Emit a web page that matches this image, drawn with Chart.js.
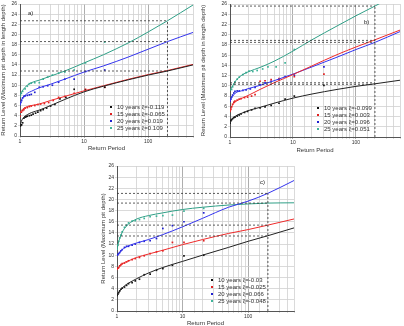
<!DOCTYPE html>
<html>
<head>
<meta charset="utf-8">
<script src="https://cdn.jsdelivr.net/npm/chart.js@4/dist/chart.umd.min.js"></script>
<style>
  html, body { margin: 0; padding: 0; background: #fff; overflow: hidden; width: 404px; height: 326px; }
  canvas { position: absolute; }
  #chartA { left: 0; top: 0; }
  #chartB { left: 200px; top: 0; }
  #chartC { left: 100px; top: 160px; }
</style>
</head>
<body>
<canvas id="chartA" width="200" height="160"></canvas>
<canvas id="chartB" width="204" height="160"></canvas>
<canvas id="chartC" width="200" height="175"></canvas>
<script>
// --- shared axis values ---
const fitPeriods = [1, 1.05, 1.1, 1.2, 1.3, 1.5, 2, 3, 5, 10, 20, 50, 100, 200, 500];
const yTicksMax = 26;
const refPeriod = 200;
const seriesNames = ["10 years", "15 years", "20 years", "25 years"];

// --- panel a ---
const aXi = ["-0.119", "-0.065", "0.019", "0.109"];
const aFit10 = [2.0, 2.9, 3.4, 3.9, 4.2, 4.6, 5.1, 6.0, 7.2, 8.7, 9.8, 11.1, 12.0, 12.8, 14.0];
const aFit15 = [4.5, 5.0, 5.3, 5.6, 5.8, 6.0, 6.3, 7.0, 7.8, 8.9, 9.9, 11.2, 12.1, 12.9, 14.1];
const aFit20 = [6.0, 7.0, 7.5, 8.0, 8.4, 8.8, 9.5, 10.2, 11.2, 12.6, 13.8, 15.6, 17.1, 18.6, 20.4];
const aFit25 = [7.8, 8.6, 9.0, 9.6, 10.0, 10.5, 11.0, 11.8, 12.8, 14.4, 16.0, 18.4, 20.5, 22.7, 25.8];
const aObs10X = [1.0, 1.03, 1.06, 1.1, 1.15, 1.2, 1.25, 1.3, 1.4, 1.5, 1.6, 1.75, 1.9, 2.1, 2.3, 2.6, 3.0, 3.5, 4.2, 5.2, 7, 10.5, 21];
const aObs10Y = [2.0, 2.1, 2.2, 2.6, 3.5, 3.7, 3.8, 3.9, 4.0, 4.1, 4.3, 4.5, 4.7, 5.0, 5.2, 5.5, 5.9, 6.2, 7.3, 7.6, 9.2, 9.0, 9.6];
const aObs15X = [1.0, 1.05, 1.1, 1.15, 1.2, 1.3, 1.4, 1.5, 1.7, 1.9, 2.1, 2.4, 2.8, 3.3, 4, 5, 7, 10.5, 21];
const aObs15Y = [3.9, 4.7, 5.0, 5.2, 5.5, 5.6, 5.8, 5.9, 6.0, 6.2, 6.3, 6.4, 6.6, 7.0, 7.6, 7.8, 8.4, 9.2, 9.6];
const aObs20X = [1.0, 1.03, 1.06, 1.1, 1.15, 1.2, 1.3, 1.4, 1.5, 1.7, 2.0, 2.3, 2.7, 3.2, 4, 5, 7, 10.5, 21];
const aObs20Y = [6.2, 6.6, 7.0, 7.5, 7.8, 7.9, 8.0, 8.1, 8.2, 8.6, 9.6, 9.7, 9.9, 10.0, 10.6, 11.2, 11.2, 12.7, 13.0];
const aObs25X = [1.0, 1.05, 1.1, 1.2, 1.3, 1.4, 1.5, 1.7, 2.0, 2.3, 2.7, 3.2, 4, 5, 7, 10.5, 21];
const aObs25Y = [7.8, 8.4, 8.8, 9.3, 9.8, 10.3, 10.4, 10.5, 10.5, 11.2, 11.6, 12.0, 12.4, 12.6, 13.0, 14.4, 18.5];
const aRefLevels = [22.7, 18.6, 12.8];

// --- panel b ---
const bXi = ["-0.099", "0.003", "0.096", "0.051"];
const bFit10 = [2.7, 3.3, 3.6, 4.0, 4.3, 4.6, 5.2, 5.8, 6.6, 7.6, 8.4, 9.3, 9.9, 10.4, 11.1];
const bFit15 = [5.0, 5.8, 6.3, 6.8, 7.1, 7.5, 8.2, 9.3, 10.6, 12.2, 13.9, 16.1, 17.6, 19.0, 20.9];
const bFit20 = [7.0, 7.6, 8.0, 8.5, 8.8, 9.0, 9.5, 10.1, 11.0, 12.3, 13.7, 15.6, 17.1, 18.5, 20.6];
const bFit25 = [9.0, 9.6, 10.0, 10.8, 11.3, 12.0, 12.8, 13.6, 14.8, 16.8, 19.0, 21.7, 23.7, 25.6, 28.2];
const bObs10X = [1.0, 1.03, 1.06, 1.1, 1.15, 1.2, 1.3, 1.4, 1.5, 1.7, 1.9, 2.2, 2.5, 3.0, 3.6, 4.5, 6, 7.5, 10.5, 31];
const bObs10Y = [2.7, 3.2, 3.4, 3.6, 3.8, 3.9, 4.1, 4.3, 4.5, 4.8, 5.0, 5.3, 5.6, 5.7, 5.9, 6.2, 6.6, 7.4, 8.0, 10.1];
const bObs15X = [1.0, 1.03, 1.06, 1.1, 1.15, 1.2, 1.3, 1.4, 1.5, 1.7, 1.9, 2.2, 2.5, 3.0, 3.6, 4.5, 6, 10.5, 31];
const bObs15Y = [5.0, 5.4, 5.9, 6.4, 6.8, 7.0, 7.2, 7.4, 7.5, 7.7, 7.8, 8.0, 8.3, 10.9, 11.0, 11.2, 11.4, 11.8, 12.3];
const bObs20X = [1.0, 1.03, 1.06, 1.1, 1.15, 1.2, 1.3, 1.4, 1.6, 1.8, 2.1, 2.5, 3.0, 3.6, 4.5, 6, 7.5, 10.5, 31];
const bObs20Y = [7.0, 7.4, 7.8, 8.2, 8.6, 8.9, 9.0, 9.0, 9.1, 9.2, 9.4, 9.7, 10.2, 10.6, 10.9, 11.2, 11.8, 12.1, 13.7];
const bObs25X = [1.06, 1.1, 1.15, 1.2, 1.3, 1.4, 1.6, 1.8, 2.0, 2.3, 2.7, 3.3, 4, 5.4, 7.5, 10.5];
const bObs25Y = [9.3, 9.8, 10.3, 10.8, 11.3, 11.7, 12.2, 12.6, 12.9, 12.8, 13.0, 13.3, 13.7, 13.7, 14.5, 17.1];
const bRefLevels = [25.6, 18.9, 18.5, 10.6, 10.3];

// --- panel c ---
const cXi = ["-0.03", "-0.025", "0.066", "-0.048"];
const cFit10 = [2.8, 3.2, 3.6, 4.1, 4.5, 5.0, 5.8, 6.8, 7.8, 8.9, 10.0, 11.4, 12.5, 13.5, 14.9];
const cFit15 = [7.3, 7.7, 8.0, 8.4, 8.7, 9.0, 9.6, 10.2, 10.9, 11.9, 12.8, 13.9, 14.6, 15.4, 16.5];
const cFit20 = [9.9, 10.2, 10.5, 11.0, 11.3, 11.7, 12.2, 12.8, 13.7, 15.1, 16.6, 18.6, 19.7, 21.1, 23.4];
const cFit25 = [11.0, 12.2, 13.0, 14.1, 14.8, 15.6, 16.5, 17.1, 17.6, 18.2, 18.6, 19.0, 19.2, 19.35, 19.4];
const cObsX = [1.0, 1.03, 1.06, 1.1, 1.15, 1.2, 1.3, 1.4, 1.5, 1.7, 1.9, 2.2, 2.6, 3.2, 4, 5, 7, 10.5, 21];
const cObs10Y = [2.8, 3.0, 3.3, 3.6, 3.9, 4.1, 4.3, 4.6, 4.9, 5.1, 5.4, 5.7, 6.5, 6.6, 7.3, 7.6, 8.2, 9.9, 10.0];
const cObs15Y = [7.5, 7.7, 7.8, 8.1, 8.3, 8.5, 8.6, 8.8, 9.0, 9.2, 9.4, 9.6, 9.9, 10.3, 10.6, 10.8, 12.3, 12.3, 12.6];
const cObs20Y = [10.0, 10.1, 10.3, 10.5, 10.8, 11.0, 11.4, 11.6, 11.6, 11.8, 12.0, 12.3, 12.5, 12.6, 13.0, 14.8, 15.3, 16.0, 17.6];
const cObs25Y = [11.1, 11.8, 12.5, 13.1, 13.6, 14.2, 15.0, 15.4, 15.8, 16.1, 16.2, 16.4, 16.6, 16.9, 17.0, 17.1, 17.2, 17.9, 18.4];
const cRefLevels = [21.1, 19.35, 15.4, 13.45];

// --- styles ---
const lineColors = ["#222222", "#ee2a2a", "#3434ee", "#2f9f86"];
const dotColors = ["#111111", "#e02020", "#2020d0", "#40b49a"];
const FONT = "'Liberation Sans', Arial, sans-serif";

const zip = (xs, ys) => xs.map((x, i) => ({ x: x, y: ys[i] }));

// legend + panel tag drawn inside the plot area
const insideText = {
  id: "insideText",
  afterDraw(chart, args, opts) {
    const ctx = chart.ctx;
    const area = chart.chartArea;
    ctx.save();
    ctx.font = "6px " + FONT;
    ctx.textBaseline = "middle";
    ctx.fillStyle = "#222";
    const mx = area.right - opts.legendRight;
    opts.labels.forEach((label, i) => {
      const y = area.bottom - opts.legendBottom + i * 7;
      ctx.fillStyle = dotColors[i];
      ctx.fillRect(mx - 1, y - 1, 2, 2);
      ctx.fillStyle = "#333";
      ctx.fillText(label, mx + 6, y);
    });
    ctx.font = "6px " + FONT;
    ctx.fillStyle = "#222";
    ctx.fillText(opts.tag, opts.tagLeft ? area.left + opts.tagX : area.right - opts.tagX, area.top + opts.tagY);
    ctx.restore();
  },
};

function buildPanel(id, p) {
  const datasets = [];
  // reference dashed lines
  const topRef = Math.max(...p.refs);
  p.refs.forEach((lvl) => {
    datasets.push({
      type: "line",
      data: [{ x: 1, y: lvl }, { x: refPeriod, y: lvl }],
      borderColor: "#333",
      borderWidth: 0.8,
      borderDash: [2, 2],
      pointRadius: 0,
    });
  });
  datasets.push({
    type: "line",
    data: [{ x: refPeriod, y: 0 }, { x: refPeriod, y: topRef }],
    borderColor: "#333",
    borderWidth: 0.8,
    borderDash: [2, 2],
    pointRadius: 0,
  });
  // fitted curves
  p.fits.forEach((ys, i) => {
    datasets.push({
      type: "line",
      data: zip(fitPeriods, ys),
      borderColor: lineColors[i],
      borderWidth: 1,
      pointRadius: 0,
      tension: 0.4,
      cubicInterpolationMode: "monotone",
    });
  });
  // observed points
  p.obs.forEach((o, i) => {
    datasets.push({
      type: "scatter",
      data: zip(o[0], o[1]),
      backgroundColor: dotColors[i],
      borderWidth: 0,
      pointStyle: "rect",
      pointRadius: 1.2,
    });
  });

  new Chart(document.getElementById(id), {
    type: "scatter",
    data: { datasets: datasets },
    options: {
      responsive: false,
      animation: false,
      layout: { padding: { top: p.padTop, right: p.padRight, left: 0, bottom: 0 } },
      scales: {
        x: {
          type: "logarithmic",
          min: 1,
          max: 500,
          border: { color: "#555" },
          grid: {
            color: (c) => ([10, 100].includes(c.tick && c.tick.value) ? "#999" : "#d0d0d0"),
            lineWidth: 0.8,
            tickLength: 2,
          },
          ticks: {
            autoSkip: false,
            maxRotation: 0,
            padding: 1,
            color: "#333",
            font: { size: 5, family: FONT },
            callback: (v) => ([1, 10, 100].includes(v) ? String(v) : ""),
          },
          title: {
            display: true,
            text: "Return Period",
            color: "#333",
            font: { size: 6, family: FONT },
            padding: { top: 0, bottom: p.xTitlePad },
          },
          afterFit: (s) => { s.height = p.xHeight; },
        },
        y: {
          min: 0,
          max: yTicksMax,
          border: { color: "#555" },
          grid: { color: "#d0d0d0", lineWidth: 0.8, tickLength: 2 },
          ticks: {
            stepSize: 2,
            padding: 1,
            color: "#333",
            font: { size: 5, family: FONT },
          },
          title: {
            display: true,
            text: p.yTitle,
            color: "#333",
            font: { size: 6, family: FONT },
            padding: { top: 0, bottom: 0 },
          },
          afterFit: (s) => { s.width = p.yWidth; },
        },
      },
      plugins: {
        legend: { display: false },
        tooltip: { enabled: false },
        insideText: {
          labels: seriesNames.map((n, i) => n + " \u03BE=" + p.xi[i]),
          legendRight: 82,
          legendBottom: p.legendBottom,
          tag: p.tag,
          tagLeft: p.tagLeft,
          tagX: p.tagX,
          tagY: p.tagY,
        },
      },
    },
    plugins: [insideText],
  });
}

buildPanel("chartA", {
  xi: aXi,
  fits: [aFit10, aFit15, aFit20, aFit25],
  obs: [[aObs10X, aObs10Y], [aObs15X, aObs15Y], [aObs20X, aObs20Y], [aObs25X, aObs25Y]],
  refs: aRefLevels,
  yTitle: "Return Level (Maximum pit depth in length depth)",
  tag: "a)", tagLeft: true, tagX: 8, tagY: 9,
  padTop: 4, padRight: 7, yWidth: 20, xHeight: 24, xTitlePad: 8, legendBottom: 29,
});

buildPanel("chartB", {
  xi: bXi,
  fits: [bFit10, bFit15, bFit20, bFit25],
  obs: [[bObs10X, bObs10Y], [bObs15X, bObs15Y], [bObs20X, bObs20Y], [bObs25X, bObs25Y]],
  refs: bRefLevels,
  yTitle: "Return Level (Maximum pit depth in length depth)",
  tag: "b)", tagLeft: false, tagX: 36, tagY: 18,
  padTop: 4, padRight: 3, yWidth: 30, xHeight: 23, xTitlePad: 6, legendBottom: 29,
});

buildPanel("chartC", {
  xi: cXi,
  fits: [cFit10, cFit15, cFit20, cFit25],
  obs: [[cObsX, cObs10Y], [cObsX, cObs15Y], [cObsX, cObs20Y], [cObsX, cObs25Y]],
  refs: cRefLevels,
  yTitle: "Return Level (Maximum pit depth)",
  tag: "c)", tagLeft: false, tagX: 34, tagY: 16,
  padTop: 6, padRight: 6, yWidth: 17, xHeight: 24, xTitlePad: 8, legendBottom: 31,
});
</script>
</body>
</html>
